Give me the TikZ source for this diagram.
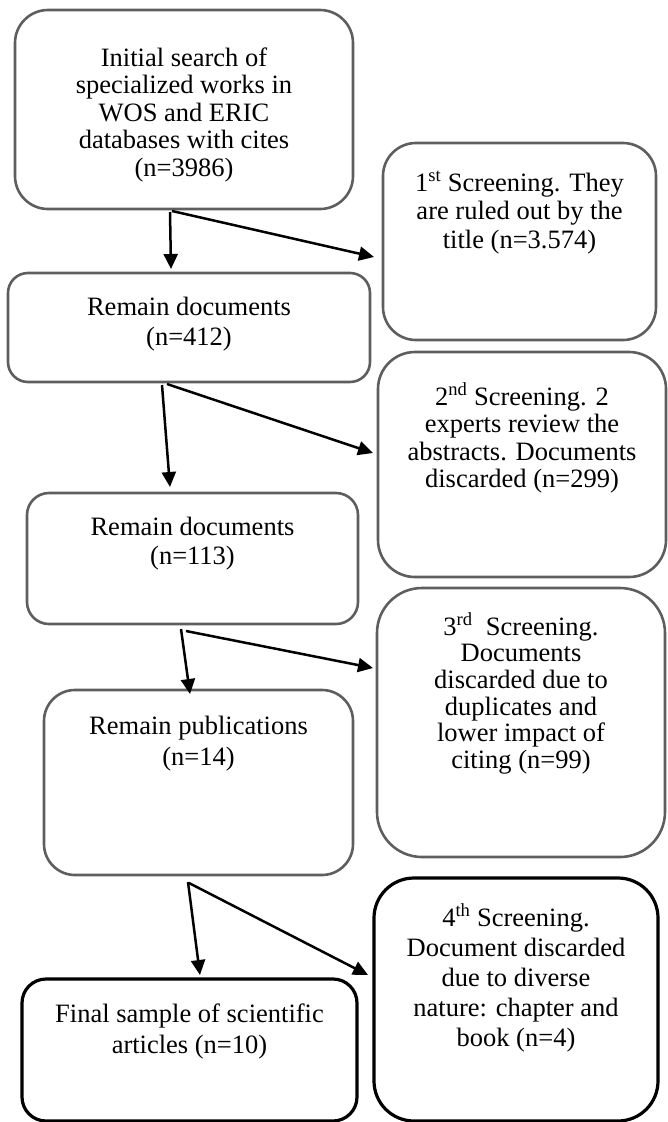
\documentclass[tikz,border=0pt]{standalone}
\usepackage{fontspec}
\setmainfont{Liberation Serif}
\usetikzlibrary{arrows.meta}
\definecolor{bordergray}{HTML}{5E5E5E}
% width, height, first-baseline offset, line spacing, text
\newcommand{\boxtext}[5]{\begin{minipage}[c][#2pt][t]{#1pt}\centering\fontsize{26.5pt}{#4pt}\selectfont\vspace*{\dimexpr#3pt-24pt\relax}\rule{0pt}{24pt}#5\end{minipage}}
\tikzset{
  graybox/.style={draw=bordergray, line width=2.6pt, inner sep=0pt, outer sep=0pt, anchor=north west},
  blackbox/.style={draw=black, line width=3.2pt, inner sep=0pt, outer sep=0pt, anchor=north west},
  arr/.style={draw=black, line width=2.5pt, -{Triangle[length=15pt,width=14pt]}},
}
\begin{document}
\begin{tikzpicture}[x=1pt,y=-1pt]
\useasboundingbox (0,0) rectangle (667,1122);
% left column
\node[graybox, rounded corners=33pt] (b1) at (15,10)
  {\boxtext{338}{199}{56}{27.5}{Initial search of\\specialized works in\\WOS and ERIC\\databases with cites\\(n=3986)}};
\node[graybox, rounded corners=20pt] (b2) at (8,273)
  {\boxtext{362}{109}{42}{30}{Remain documents\\(n=412)}};
\node[graybox, rounded corners=22pt] (b3) at (27,493)
  {\boxtext{331}{131}{42}{29}{Remain documents\\(n=113)}};
\node[graybox, rounded corners=31pt] (b4) at (44,690)
  {\boxtext{309}{185}{44}{31}{Remain publications\\(n=14)}};
\node[blackbox, rounded corners=24pt] (b5) at (22,979)
  {\boxtext{335}{142}{43}{31}{Final sample of scientific\\articles (n=10)}};
% right column
\node[graybox, rounded corners=33pt] (r1) at (383,143)
  {\boxtext{273}{197}{48}{28.5}{1\textsuperscript{st} Screening. They\\are ruled out by the\\title (n=3.574)}};
\node[graybox, rounded corners=37pt] (r2) at (378,352)
  {\boxtext{288}{225}{53}{27.5}{2\textsuperscript{nd} Screening. 2\\experts review the\\abstracts. Documents\\discarded (n=299)}};
\node[graybox, rounded corners=45pt] (r3) at (377,588)
  {\boxtext{288}{269}{47}{26.7}{3\textsuperscript{rd}\ \ Screening.\\Documents\\discarded due to\\duplicates and\\lower impact of\\citing (n=99)}};
\node[blackbox, rounded corners=40pt] (r4) at (374,878)
  {\boxtext{284}{243}{48}{30}{4\textsuperscript{th} Screening.\\Document discarded\\due to diverse\\nature: chapter and\\book (n=4)}};
% connectors
\draw[arr] ([xshift=-14pt,yshift=-3pt]b1.south) -- ([xshift=-18pt,yshift=4pt]b2.north);
\draw[arr] ([xshift=-12pt,yshift=-2pt]b1.south) -- ([xshift=-9pt,yshift=-15.5pt]r1.west);
\draw[arr] ([xshift=-27pt,yshift=-3pt]b2.south) -- ([xshift=-22.5pt,yshift=6pt]b3.north);
\draw[arr] ([xshift=-22pt,yshift=-2pt]b2.south) -- ([xshift=-5pt,yshift=11.5pt]r2.west);
\draw[arr] ([xshift=-11.5pt,yshift=-5pt]b3.south) -- ([xshift=-8.5pt,yshift=-4pt]b4.north);
\draw[arr] ([xshift=-6.5pt,yshift=-7pt]b3.south) -- ([xshift=-4pt,yshift=54.5pt]r3.west);
\draw[arr] ([xshift=-10.5pt,yshift=-7pt]b4.south) -- ([xshift=10.5pt,yshift=4pt]b5.north);
\draw[arr] ([xshift=-9.5pt,yshift=-8pt]b4.south) -- ([xshift=-6pt,yshift=24.5pt]r4.west);
\end{tikzpicture}
\end{document}
